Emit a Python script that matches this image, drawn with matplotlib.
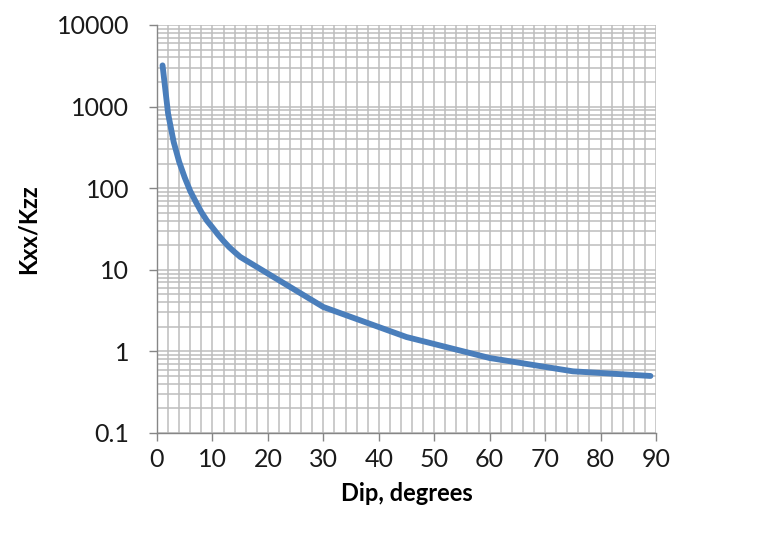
import numpy as np
import matplotlib.pyplot as plt
from matplotlib.ticker import MultipleLocator, LogLocator, NullFormatter, FixedLocator

# values
dip = [1, 2, 3, 4, 5, 6, 7, 8, 9, 10, 11, 12, 13, 14, 15, 30, 45, 60, 75, 89]
kxx_kzz = [3200, 820, 370, 210, 135, 92, 68, 51, 40, 33, 27, 22.5, 19, 16.5, 14.4,
           3.5, 1.5, 0.83, 0.57, 0.5]

yticks = [0.1, 1, 10, 100, 1000, 10000]
ytick_labels = ['0.1', '1', '10', '100', '1000', '10000']
xticks = list(range(0, 91, 10))

plt.rcParams['font.family'] = ['Lato', 'DejaVu Sans']

fig = plt.figure(figsize=(7.71, 5.38), dpi=100)
ax = fig.add_axes([157 / 771, 1 - 433 / 538, (656 - 157) / 771, (433 - 25) / 538])

ax.plot(dip, kxx_kzz, color='#4A7EBB', lw=4.2, solid_capstyle='round',
        solid_joinstyle='round', zorder=3)

ax.set_yscale('log')
ax.set_xlim(0, 90)
ax.set_ylim(0.1, 10000)

ax.xaxis.set_major_locator(FixedLocator(xticks))
ax.xaxis.set_minor_locator(MultipleLocator(2))
ax.set_xticklabels([str(v) for v in xticks])
ax.yaxis.set_major_locator(FixedLocator(yticks))
ax.set_yticklabels(ytick_labels)
ax.yaxis.set_minor_locator(LogLocator(base=10, subs=np.arange(2, 10)))
ax.yaxis.set_minor_formatter(NullFormatter())

ax.set_axisbelow(True)
ax.grid(which='both', color='#bdbdbd', lw=1.1)

for s in ['top', 'right']:
    ax.spines[s].set_visible(False)
for s in ['left', 'bottom']:
    ax.spines[s].set_color('#868686')
    ax.spines[s].set_linewidth(1.0)

ax.tick_params(which='major', direction='out', length=6, width=1.0, color='#868686',
               labelsize=18, labelcolor='#1a1a1a')
ax.tick_params(axis='y', which='major', pad=14)
ax.tick_params(axis='x', which='major', pad=5)
ax.tick_params(which='minor', length=0)

ax.set_xlabel('Dip, degrees', fontsize=17, fontweight='bold', labelpad=8)
ax.set_ylabel('Kxx/Kzz', fontsize=17, fontweight='bold', labelpad=12)

fig.savefig('out.png', dpi=100)
